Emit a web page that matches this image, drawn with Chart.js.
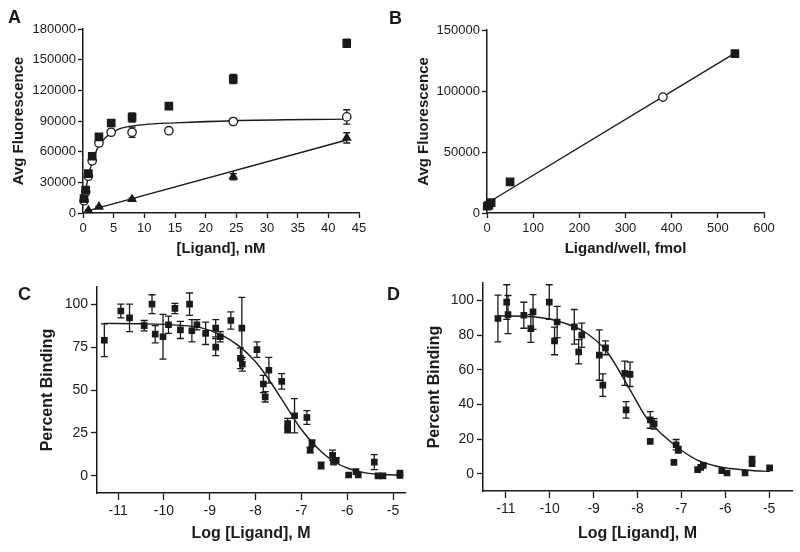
<!DOCTYPE html>
<html>
<head>
<meta charset="utf-8">
<script src="https://cdn.jsdelivr.net/npm/chart.js@4"></script>
<style>
  body { margin: 0; background: #fff; }
  #wrap { position: relative; width: 800px; height: 552px; overflow: hidden; }
  canvas { position: absolute; }
  .lbl { position: absolute; font: bold 18px 'Liberation Sans', Arial, sans-serif; line-height: 1; color: #1a1a1a; }
</style>
</head>
<body>
<div id="wrap">
  <canvas id="chartA" width="385" height="270" style="left:0;top:0"></canvas>
  <canvas id="chartB" width="400" height="270" style="left:400px;top:0"></canvas>
  <canvas id="chartC" width="420" height="282" style="left:0;top:270px"></canvas>
  <canvas id="chartD" width="400" height="282" style="left:400px;top:270px"></canvas>
  <div class="lbl" style="left:8px;top:8px">A</div>
  <div class="lbl" style="left:389px;top:9px">B</div>
  <div class="lbl" style="left:18px;top:285px">C</div>
  <div class="lbl" style="left:387px;top:285px">D</div>
</div>
<script>
// Panel A - saturation binding
const aConc = [0.17, 0.43, 0.87, 1.5, 2.6, 4.6, 8, 14, 24.5, 43];
const aTotal = [14000, 22500, 38500, 55500, 74500, 88000, 93500, 104500, 131000, 166000];
const aTotalErr = [1500, 2000, 2000, 2000, 3000, 3000, 4500, 3000, 4500, 4000];
const aSpecific = [12000, 20500, 36000, 51000, 68500, 79000, 79000, 80500, 89500, 94000];
const aSpecificErr = [1000, 1000, 1500, 1500, 2000, 2000, 5000, 2000, 3000, 7000];
const aNonspecConc = [0.87, 2.6, 8, 24.5, 43];
const aNonspec = [2500, 6000, 13500, 35500, 73500];
const aNonspecErr = [500, 800, 1000, 3000, 5000];
const aFitX = [0.17, 0.43, 0.87, 1.5, 2.6, 4, 6, 10, 15, 24.5, 43];
const aFitY = [11500, 21500, 35500, 50000, 66000, 75500, 82500, 86500, 88200, 90300, 91800];
const aLineX = [0.87, 43];
const aLineY = [2300, 71400];
const aXTicks = [0, 5, 10, 15, 20, 25, 30, 35, 40, 45];
const aYTicks = [0, 30000, 60000, 90000, 120000, 150000, 180000];

// Panel B - standard curve
const bAmount = [0.5, 4, 9, 50, 537];
const bSignal = [5500, 6500, 8500, 25500, 130500];
const bSignalErr = [0, 0, 0, 0, 3000];
const bOpenAmount = [381];
const bOpenSignal = [95000];
const bLineX = [0, 537];
const bLineY = [8000, 131000];
const bXTicks = [0, 100, 200, 300, 400, 500, 600];
const bYTicks = [0, 50000, 100000, 150000];

// Panel C - competition
const cLog = [-11.30, -10.94, -10.75, -10.43, -10.26, -10.19, -10.02, -9.90, -9.76, -9.64, -9.44, -9.39, -9.28, -9.09, -8.87, -8.87, -8.77, -8.54, -8.30, -8.33, -8.29, -7.97, -7.83, -7.79, -7.71, -7.43, -7.30, -7.30, -7.15, -6.88, -6.77, -6.81, -6.57, -6.32, -6.30, -6.24, -5.97, -5.81, -5.76, -5.41, -5.33, -5.22, -4.85, -4.85];
const cBinding = [79, 96, 92, 87.5, 100, 82.5, 81, 88, 97.5, 85, 100, 84.5, 88, 83, 86, 75, 81, 90.5, 86, 68.5, 65, 73.5, 53.5, 46, 61.5, 55, 30.5, 27, 35, 34, 19, 15, 6, 12, 8, 9, 0.5, 2.5, 0.5, 8, 0, 0, 1.6, 0.2];
const cErr = [9.5, 4, 8, 3, 5.5, 5, 13, 5, 3, 5, 6.5, 6.5, 3, 6.5, 5, 5, 3, 5, 18, 6, 4, 4.5, 5, 3, 7.5, 4.5, 3, 2, 10, 4, 2, 1.5, 2, 3, 0, 0, 0, 0, 0, 4.4, 0, 0, 0, 0];
const cFitX = [-11.32, -10.5, -9.7, -9.2, -8.74, -8.38, -8.02, -7.76, -7.39, -7.03, -6.66, -6.3, -5.94, -5.57, -4.85];
const cFitY = [88.8, 88.6, 87.8, 86.3, 82, 76, 67, 58, 43, 28, 16.5, 8.5, 4, 1.6, 0.3];
const cXTicks = [-11, -10, -9, -8, -7, -6, -5];
const cYTicks = [0, 25, 50, 75, 100];

// Panel D - competition
const dLog = [-11.18, -10.98, -10.95, -10.59, -10.43, -10.38, -10.01, -9.89, -9.83, -9.44, -9.34, -9.27, -8.87, -8.79, -8.73, -8.29, -8.17, -8.26, -7.71, -7.71, -7.62, -7.17, -7.12, -7.07, -6.63, -6.56, -6.50, -6.08, -5.96, -5.55, -5.39, -5.39, -4.99];
const dBinding = [89.5, 99, 91.8, 91.4, 83.7, 93.3, 99, 76.6, 87.5, 84.7, 70.3, 79.9, 68.4, 51.1, 72.6, 57.9, 57.3, 36.8, 31, 18.6, 28.7, 6.5, 16.7, 13.8, 2.3, 3.6, 4.8, 1.7, 0.4, 0.4, 8.4, 5.7, 3.3];
const dErr = [13.5, 10, 11, 7.5, 8, 10, 10, 8, 9, 10, 7, 7, 14.5, 6.5, 4, 7, 7, 4.8, 4.8, 0, 3, 0, 3, 2, 0, 0, 0, 0, 0, 0, 0, 0, 0];
const dFitX = [-11.18, -10.38, -9.62, -9.16, -8.70, -8.25, -7.79, -7.41, -7.0, -6.65, -6.2, -5.89, -5.4, -4.98];
const dFitY = [91, 90.5, 86.5, 81, 70.5, 52, 32, 22, 13.5, 8, 4.3, 3, 1.8, 1.3];
const dXTicks = [-11, -10, -9, -8, -7, -6, -5];
const dYTicks = [0, 20, 40, 60, 80, 100];

const INK = '#1a1a1a';
Chart.defaults.font.family = "'Liberation Sans', Arial, sans-serif";
Chart.defaults.color = INK;

function pts(xs, ys) {
    return xs.map((x, i) => ({x: x, y: ys[i]}));
}

// draws vertical error bars behind the markers, using the chart scales
const errorBars = {
    id: 'errorBars',
    beforeDatasetsDraw(chart) {
        const ctx = chart.ctx;
        const xs = chart.scales.x;
        const ys = chart.scales.y;
        chart.data.datasets.forEach(ds => {
            if (!ds.errors) return;
            ctx.save();
            ctx.strokeStyle = INK;
            ctx.lineWidth = 1.3;
            ds.data.forEach((p, j) => {
                const e = ds.errors[j];
                if (!e) return;
                const px = xs.getPixelForValue(p.x);
                const top = ys.getPixelForValue(p.y + e);
                const bot = ys.getPixelForValue(p.y - e);
                const cap = 3.5;
                ctx.beginPath();
                ctx.moveTo(px, top); ctx.lineTo(px, bot);
                ctx.moveTo(px - cap, top); ctx.lineTo(px + cap, top);
                ctx.moveTo(px - cap, bot); ctx.lineTo(px + cap, bot);
                ctx.stroke();
            });
            ctx.restore();
        });
    }
};

function axis(min, max, ticks, title, o) {
    return {
        type: 'linear',
        min: min,
        max: max,
        afterBuildTicks: s => { s.ticks = ticks.map(v => ({value: v})); },
        afterFit: s => {
            if (s.isHorizontal()) s.height = o.size; else s.width = o.size;
        },
        grid: {display: true, drawOnChartArea: false, drawTicks: true, tickLength: o.tick, tickWidth: 1.3, tickColor: INK},
        border: {display: true, color: INK, width: 1.5},
        ticks: {color: INK, font: {size: o.font}, padding: o.pad, maxRotation: 0, autoSkip: false, callback: v => String(v)},
        title: {display: true, text: title, color: INK, font: {size: o.titleFont, weight: 'bold'}, padding: o.titlePad}
    };
}

function markers(data, style, radius, filled, errors) {
    return {
        type: 'scatter',
        data: data,
        errors: errors,
        pointStyle: style,
        pointRadius: radius,
        pointBackgroundColor: filled ? INK : '#fff',
        pointBorderColor: INK,
        pointBorderWidth: 1.3,
        clip: false,
        order: 1
    };
}

function fitLine(data) {
    return {
        type: 'line',
        data: data,
        borderColor: INK,
        borderWidth: 1.4,
        pointRadius: 0,
        cubicInterpolationMode: 'monotone',
        fill: false,
        clip: false,
        order: 2
    };
}

function makeChart(id, datasets, scales, padding) {
    const ctx = document.getElementById(id).getContext('2d');
    return new Chart(ctx, {
        type: 'scatter',
        data: {datasets: datasets},
        options: {
            responsive: false,
            animation: false,
            devicePixelRatio: 1,
            layout: {padding: padding},
            plugins: {legend: {display: false}, tooltip: {enabled: false}},
            scales: scales
        },
        plugins: [errorBars]
    });
}

makeChart('chartA', [
    markers(pts(aConc, aTotal), 'rect', 5.2, true, aTotalErr),
    markers(pts(aConc, aSpecific), 'circle', 4.2, false, aSpecificErr),
    markers(pts(aNonspecConc, aNonspec), 'triangle', 4.5, true, aNonspecErr),
    fitLine(pts(aFitX, aFitY)),
    fitLine(pts(aLineX, aLineY))
], {
    x: axis(0, 45, aXTicks, '[Ligand], nM', {size: 57, tick: 5, pad: 3, font: 13, titleFont: 15, titlePad: 12}),
    y: axis(0, 180000, aYTicks, 'Avg Fluorescence', {size: 83, tick: 5, pad: 2, font: 13, titleFont: 15, titlePad: 10})
}, {top: 29, right: 26, left: 0, bottom: 0});

makeChart('chartB', [
    markers(pts(bAmount, bSignal), 'rect', 5.2, true, bSignalErr),
    markers(pts(bOpenAmount, bOpenSignal), 'circle', 4.2, false, null),
    fitLine(pts(bLineX, bLineY))
], {
    x: axis(0, 600, bXTicks, 'Ligand/well, fmol', {size: 57, tick: 5, pad: 3, font: 13, titleFont: 15, titlePad: 12}),
    y: axis(0, 150000, bYTicks, 'Avg Fluorescence', {size: 87, tick: 5, pad: 2, font: 13, titleFont: 15, titlePad: 15})
}, {top: 30, right: 36, left: 0, bottom: 0});

makeChart('chartC', [
    markers(pts(cLog, cBinding), 'rect', 3.8, true, cErr),
    fitLine(pts(cFitX, cFitY))
], {
    x: axis(-11.46, -4.74, cXTicks, 'Log [Ligand], M', {size: 59, tick: 7, pad: 3, font: 14, titleFont: 16, titlePad: 9}),
    y: axis(-10, 110, cYTicks, 'Percent Binding', {size: 97, tick: 6, pad: 3, font: 14, titleFont: 16, titlePad: 38})
}, {top: 17, right: 15, left: 0, bottom: 0});

makeChart('chartD', [
    markers(pts(dLog, dBinding), 'rect', 3.8, true, dErr),
    fitLine(pts(dFitX, dFitY))
], {
    x: axis(-11.52, -4.48, dXTicks, 'Log [Ligand], M', {size: 61, tick: 7, pad: 3, font: 14, titleFont: 16, titlePad: 9}),
    y: axis(-10, 110, dYTicks, 'Percent Binding', {size: 83, tick: 6, pad: 3, font: 14, titleFont: 16, titlePad: 25})
}, {top: 13, right: 8, left: 0, bottom: 0});
</script>
</body>
</html>
